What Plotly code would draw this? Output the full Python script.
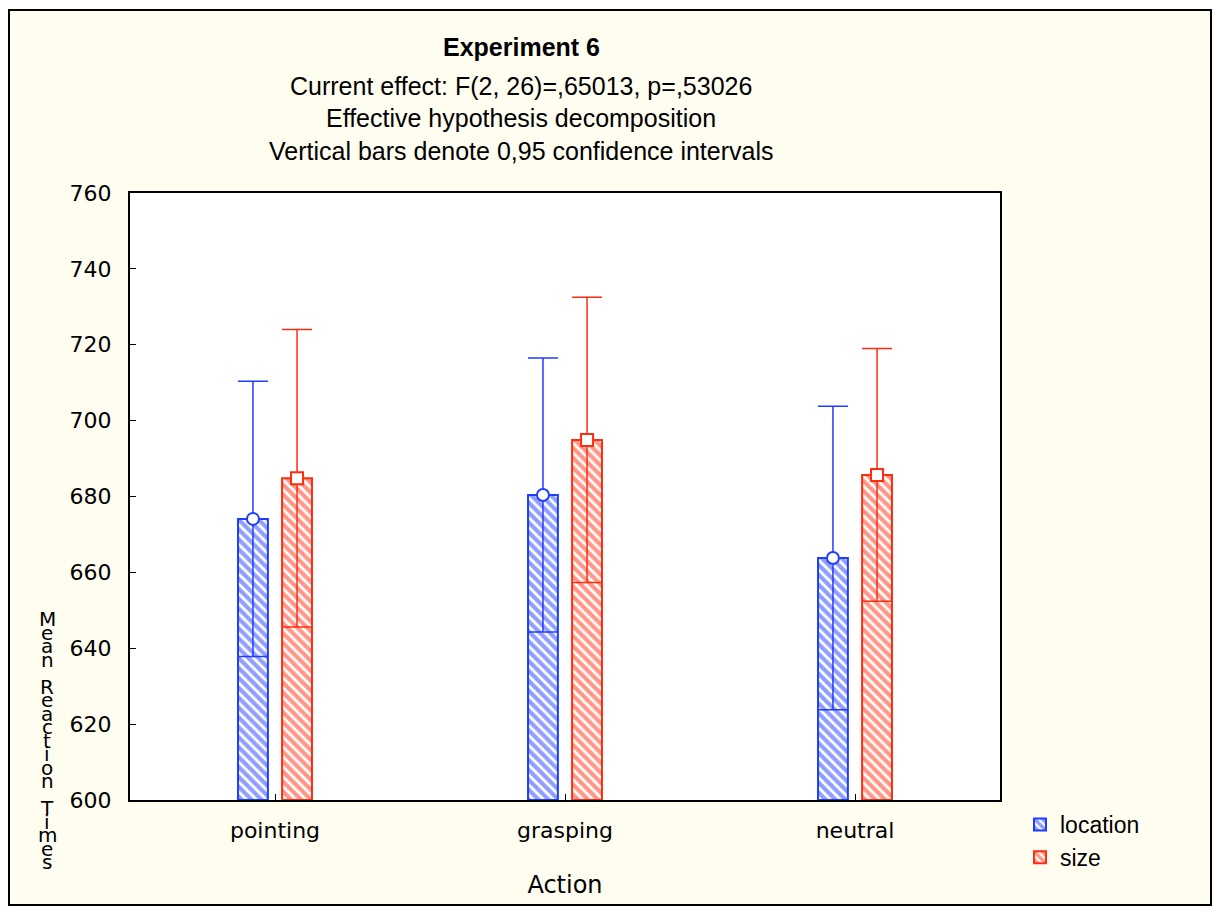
import numpy as np
import plotly.graph_objects as go

categories = ["pointing", "grasping", "neutral"]
location_mean = [674.1, 680.4, 663.8]
location_ci = [36.3, 36.1, 40.0]
size_mean = [684.8, 694.9, 685.7]
size_ci = [39.2, 37.6, 33.3]
series_names = ["location", "size"]
y_ticks = [600, 620, 640, 660, 680, 700, 720, 740, 760]

BLUE = "#1f3dff"
RED = "#ff2d0f"

O = 8  # page body margin
W, H = 1220 - 2 * O, 914 - 2 * O
# plot area in screen pixels: x 130..1000, y 193..800
ML, MT = 130 - O, 193 - O
MR = W - (1000 - O)
MB = H - (800 - O)
PW, PH = W - ML - MR, H - MT - MB

xi = np.arange(len(categories))
off = 0.076
bw = 0.103

fig = go.Figure()
for name, mean, ci, col, sym, sgn in [
    ("location", location_mean, location_ci, BLUE, "circle", -1),
    ("size", size_mean, size_ci, RED, "square", 1),
]:
    base = 600
    fig.add_trace(go.Bar(
        x=xi + sgn * off, y=[m - base for m in mean], base=base, width=bw, name=name,
        marker=dict(color="white", line=dict(color=col, width=2),
                    pattern=dict(shape="\\", fgcolor=col, bgcolor="white", size=7, solidity=0.6)),
        showlegend=True,
    ))
    fig.add_trace(go.Scatter(
        x=xi + sgn * off, y=mean, mode="markers", showlegend=False,
        marker=dict(symbol=sym, size=12, color="white", line=dict(width=2, color=col)),
        error_y=dict(type="data", array=ci, color=col, thickness=1.5, width=15),
    ))

fig.update_layout(
    width=W, height=H,
    margin=dict(l=ML, r=MR, t=MT, b=MB),
    paper_bgcolor="#fffdf0", plot_bgcolor="white",
    barmode="overlay",
    font=dict(family="DejaVu Sans", size=22, color="black"),
    legend=dict(x=(1020 - 130) / PW, y=(800 - 803) / PH, xanchor="left", yanchor="top",
                font=dict(family="Liberation Sans, Arial", size=23), bgcolor="rgba(0,0,0,0)",
                tracegroupgap=0, itemsizing="constant"),
)
fig.update_xaxes(
    tickvals=list(xi), ticktext=categories, range=[-0.5, 2.5],
    showgrid=False, zeroline=False, showline=True, linecolor="black", linewidth=2, mirror=True,
    ticks="inside", ticklen=6, tickcolor="black", ticklabelstandoff=10,
    tickfont=dict(family="DejaVu Sans", size=22),
    title=dict(text="Action", font=dict(family="DejaVu Sans", size=24), standoff=34),
)
fig.update_yaxes(
    range=[600, 760], tickvals=y_ticks,
    showgrid=False, zeroline=False, showline=True, linecolor="black", linewidth=2, mirror=True,
    ticks="inside", ticklen=6, tickcolor="black", ticklabelstandoff=12,
    tickfont=dict(family="DejaVu Sans", size=22),
)

def px(xs):
    return (xs - 130) / PW

def py(ys):
    return (800 - ys) / PH

# outer frame (clamped to the figure area)
fig.add_shape(type="rect", xref="paper", yref="paper",
              x0=px(O + 1), x1=px(O + W - 1), y0=py(O + H - 1), y1=py(10),
              line=dict(color="black", width=2), layer="below")

title_lines = [
    ("<b>Experiment 6</b>", 47),
    ("Current effect: F(2, 26)=,65013, p=,53026", 86),
    ("Effective hypothesis decomposition", 118),
    ("Vertical bars denote 0,95 confidence intervals", 151),
]
for txt, yy in title_lines:
    fig.add_annotation(text=txt, xref="paper", yref="paper", x=px(521), y=py(yy),
                       showarrow=False, xanchor="center", yanchor="middle",
                       font=dict(family="Liberation Sans, Arial", size=25, color="black"))

ylabel = "Mean Reaction Times"
for i, ch in enumerate(ylabel):
    if ch == " ":
        continue
    fig.add_annotation(text=ch, xref="paper", yref="paper", x=px(47), y=py(619 + i * 13.5),
                       showarrow=False, xanchor="center", yanchor="middle",
                       font=dict(family="DejaVu Sans", size=20, color="black"))

fig.write_html("out.html")
